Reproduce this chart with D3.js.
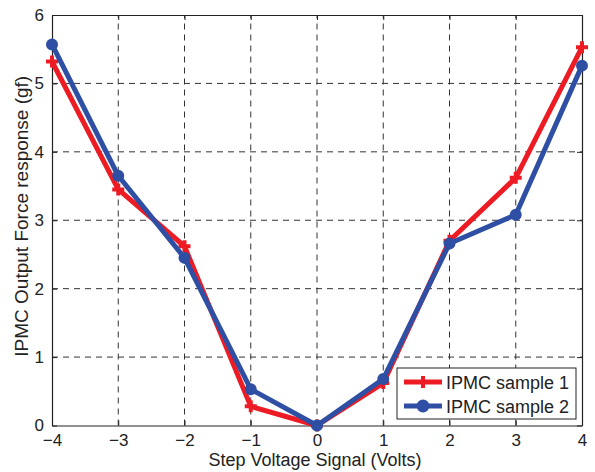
<!DOCTYPE html>
<html>
<head>
<meta charset="utf-8">
<script src="https://cdn.jsdelivr.net/npm/d3@7"></script>
<style>
  html, body { margin: 0; padding: 0; background: #fff; }
  svg { display: block; font-family: "Liberation Sans", Arial, Helvetica, sans-serif; }
</style>
</head>
<body>
<svg id="chart" width="595" height="472"></svg>
<script>
// Step voltage (V) and measured force (gf) for the two IPMC samples
const voltages = [-4, -3, -2, -1, 0, 1, 2, 3, 4];
const sample1 = [5.32, 3.45, 2.62, 0.28, 0, 0.62, 2.70, 3.62, 5.53];
const sample2 = [5.57, 3.65, 2.45, 0.53, 0, 0.68, 2.66, 3.08, 5.26];
const xTicks = [-4, -3, -2, -1, 0, 1, 2, 3, 4];
const yTicks = [0, 1, 2, 3, 4, 5, 6];
const seriesNames = ["IPMC sample 1", "IPMC sample 2"];

const red = "#ed1c24";
const blue = "#2e4fa3";

const svg = d3.select("#chart");
const m = { left: 52, right: 13, top: 15, bottom: 46.5 };
const W = 595, H = 472;

const x = d3.scaleLinear().domain([-4, 4]).range([m.left, W - m.right]);
const y = d3.scaleLinear().domain([0, 6]).range([H - m.bottom, m.top]);

// dashed grid
const grid = svg.append("g");
grid.selectAll("line.gx").data(xTicks.slice(1, -1)).enter().append("line")
  .attr("x1", d => x(d)).attr("x2", d => x(d))
  .attr("y1", y(0)).attr("y2", y(6))
  .attr("stroke", "#333").attr("stroke-width", 1).attr("stroke-dasharray", "6,5");
grid.selectAll("line.gy").data(yTicks.slice(1, -1)).enter().append("line")
  .attr("x1", x(-4)).attr("x2", x(4))
  .attr("y1", d => y(d)).attr("y2", d => y(d))
  .attr("stroke", "#333").attr("stroke-width", 1).attr("stroke-dasharray", "6,5");

// axes with inward ticks on all four sides
const tickFmt = d3.format("d");
svg.append("g").attr("transform", `translate(0,${y(0)})`)
  .call(d3.axisBottom(x).tickValues(xTicks).tickFormat(tickFmt).tickSizeInner(-5).tickSizeOuter(0).tickPadding(8));
svg.append("g").attr("transform", `translate(0,${y(6)})`)
  .call(d3.axisTop(x).tickValues(xTicks).tickFormat("").tickSizeInner(-5).tickSizeOuter(0));
svg.append("g").attr("transform", `translate(${x(-4)},0)`)
  .call(d3.axisLeft(y).tickValues(yTicks).tickFormat(tickFmt).tickSizeInner(-5).tickSizeOuter(0).tickPadding(8));
svg.append("g").attr("transform", `translate(${x(4)},0)`)
  .call(d3.axisRight(y).tickValues(yTicks).tickFormat("").tickSizeInner(-5).tickSizeOuter(0));

svg.selectAll(".domain").attr("stroke", "#222").attr("stroke-width", 1.2);
svg.selectAll(".tick line").attr("stroke", "#222");
svg.selectAll(".tick text").attr("font-size", 17).attr("fill", "#222")
  .attr("font-family", "'Liberation Sans', Arial, sans-serif");

// axis titles
svg.append("text").attr("x", (x(-4) + x(4)) / 2 - 2).attr("y", 466)
  .attr("text-anchor", "middle").attr("font-size", 18).attr("fill", "#222")
  .text("Step Voltage Signal (Volts)");
svg.append("text")
  .attr("transform", `translate(28,${(y(0) + y(6)) / 2 - 4}) rotate(-90)`)
  .attr("text-anchor", "middle").attr("font-size", 19).attr("fill", "#222")
  .text("IPMC Output Force response (gf)");

// series lines and markers
const line = d3.line().x((d, i) => x(voltages[i])).y(d => y(d));
const plot = svg.append("g");

function plusPath(cx, cy, s) {
  return `M${cx - s},${cy}H${cx + s}M${cx},${cy - s}V${cy + s}`;
}

plot.append("path").datum(sample1).attr("d", line)
  .attr("fill", "none").attr("stroke", red).attr("stroke-width", 5).attr("stroke-linejoin", "round");
plot.selectAll("path.m1").data(sample1).enter().append("path")
  .attr("d", (d, i) => plusPath(x(voltages[i]), y(d), 6))
  .attr("stroke", red).attr("stroke-width", 4).attr("fill", "none");

plot.append("path").datum(sample2).attr("d", line)
  .attr("fill", "none").attr("stroke", blue).attr("stroke-width", 5).attr("stroke-linejoin", "round");
plot.selectAll("circle.m2").data(sample2).enter().append("circle")
  .attr("cx", (d, i) => x(voltages[i])).attr("cy", d => y(d)).attr("r", 5)
  .attr("fill", blue).attr("stroke", blue).attr("stroke-width", 2);

// legend
const lg = svg.append("g").attr("transform", "translate(397,368)");
lg.append("rect").attr("width", 179).attr("height", 51)
  .attr("fill", "#fff").attr("stroke", "#222").attr("stroke-width", 1);
seriesNames.forEach((name, i) => {
  const cy = 14 + i * 24;
  const col = i === 0 ? red : blue;
  lg.append("line").attr("x1", 7).attr("x2", 45).attr("y1", cy).attr("y2", cy)
    .attr("stroke", col).attr("stroke-width", 5);
  if (i === 0) {
    lg.append("path").attr("d", plusPath(26, cy, 6)).attr("stroke", col).attr("stroke-width", 4);
  } else {
    lg.append("circle").attr("cx", 26).attr("cy", cy).attr("r", 6.5).attr("fill", col);
  }
  lg.append("text").attr("x", 49).attr("y", cy + 6.5).attr("font-size", 18).attr("fill", "#222")
    .text(name);
});
</script>
</body>
</html>
